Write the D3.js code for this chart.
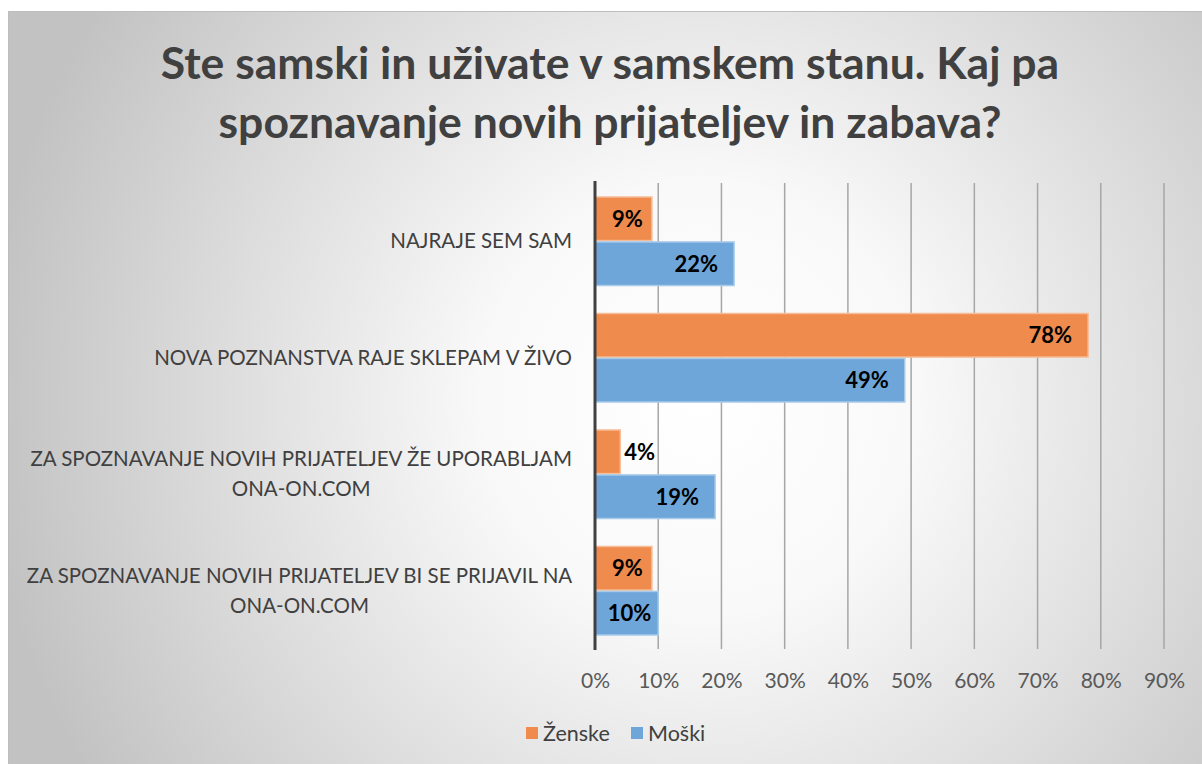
<!DOCTYPE html>
<html>
<head>
<meta charset="utf-8">
<script src="https://cdn.jsdelivr.net/npm/d3@7"></script>
<style>
  body { margin: 0; background: #fff; }
  svg { display: block; }
</style>
</head>
<body>
<div class="canvas"></div>
<script>
const titleLines = ['Ste samski in uživate v samskem stanu. Kaj pa', 'spoznavanje novih prijateljev in zabava?'];
const categories = [
    ['NAJRAJE SEM SAM'],
    ['NOVA POZNANSTVA RAJE SKLEPAM V ŽIVO'],
    ['ZA SPOZNAVANJE NOVIH PRIJATELJEV ŽE UPORABLJAM', 'ONA-ON.COM'],
    ['ZA SPOZNAVANJE NOVIH PRIJATELJEV BI SE PRIJAVIL NA', 'ONA-ON.COM']
];
const series = ['Ženske', 'Moški'];
const zenske = [0.09, 0.78, 0.04, 0.09];
const moski = [0.22, 0.49, 0.19, 0.10];
const ticks = [0, 0.1, 0.2, 0.3, 0.4, 0.5, 0.6, 0.7, 0.8, 0.9];

const colors = { 'Ženske': '#EE8B4D', 'Moški': '#6EA6DA' };
const strokes = { 'Ženske': '#F6BE98', 'Moški': '#A9CBEA' };

const W = 1202, H = 764;
const font = 'Lato, sans-serif';
const svg = d3.select('.canvas')
    .append('svg')
    .attr('width', W)
    .attr('height', H);

// background
const defs = svg.append('defs');
const grad = defs.append('radialGradient')
    .attr('id', 'bg')
    .attr('gradientUnits', 'userSpaceOnUse')
    .attr('cx', 700).attr('cy', 400).attr('r', 720);
grad.append('stop').attr('offset', '0%').attr('stop-color', '#ffffff');
grad.append('stop').attr('offset', '30%').attr('stop-color', '#f9f9f9');
grad.append('stop').attr('offset', '100%').attr('stop-color', '#c2c2c2');

svg.append('rect')
    .attr('x', 8.5).attr('y', 11.5)
    .attr('width', W).attr('height', H)
    .attr('fill', 'url(#bg)')
    .attr('stroke', '#bdbdbd');

// title
svg.append('text')
    .attr('text-anchor', 'middle')
    .attr('font-family', font)
    .attr('font-weight', 'bold')
    .attr('font-size', 44.5)
    .attr('fill', '#404040')
    .selectAll('tspan')
    .data(titleLines)
    .enter()
    .append('tspan')
    .attr('x', 610)
    .attr('y', (d, i) => 79 + i * 59)
    .text(d => d);

const x = d3.scaleLinear()
    .domain([0, 0.9])
    .range([595, 1164]);

const y = d3.scaleBand()
    .domain(d3.range(categories.length))
    .range([183, 649]);

const ySub = d3.scaleBand()
    .domain(series)
    .range([y.bandwidth() * 0.12, y.bandwidth() * 0.88])
    .paddingInner(0.03);

// gridlines
svg.append('g')
    .selectAll('line')
    .data(ticks.slice(1))
    .enter()
    .append('line')
    .attr('x1', d => x(d)).attr('x2', d => x(d))
    .attr('y1', 183).attr('y2', 649)
    .attr('stroke', '#a6a6a6')
    .attr('stroke-width', 1.5);

// x axis labels
const xAxis = d3.axisBottom(x)
    .tickValues(ticks)
    .tickSize(0)
    .tickPadding(0)
    .tickFormat(d3.format('.0%'));

const xAxisGroup = svg.append('g')
    .attr('transform', 'translate(0, 673)')
    .call(xAxis);
xAxisGroup.select('.domain').remove();
xAxisGroup.selectAll('text')
    .attr('font-family', font)
    .attr('font-size', 21)
    .attr('fill', '#595959')
    .attr('dy', '0.71em');

// bars
const rows = categories.map((c, i) => ({ i, values: [
    { key: 'Ženske', v: zenske[i] },
    { key: 'Moški', v: moski[i] }
] }));

const groups = svg.append('g')
    .selectAll('g')
    .data(rows)
    .enter()
    .append('g')
    .attr('transform', d => `translate(0, ${y(d.i)})`);

groups.selectAll('rect')
    .data(d => d.values)
    .enter()
    .append('rect')
    .attr('x', x(0))
    .attr('y', d => ySub(d.key))
    .attr('width', d => x(d.v) - x(0))
    .attr('height', ySub.bandwidth())
    .attr('fill', d => colors[d.key])
    .attr('stroke', d => strokes[d.key])
    .attr('stroke-width', 1.5);

// value labels: inside end, outside when the bar is too short
groups.selectAll('text.val')
    .data(d => d.values)
    .enter()
    .append('text')
    .attr('class', 'val')
    .attr('y', d => ySub(d.key) + ySub.bandwidth() / 2)
    .attr('dy', '0.36em')
    .attr('font-family', font)
    .attr('font-weight', 'bold')
    .attr('font-size', 22)
    .attr('fill', '#000')
    .text(d => d3.format('.0%')(d.v))
    .each(function(d) {
        const lw = this.getComputedTextLength();
        const bw = x(d.v) - x(0);
        const t = d3.select(this);
        if (bw < lw + 8) {
            t.attr('text-anchor', 'start').attr('x', x(d.v) + 4);
        } else {
            const pad = Math.min(16, (bw - lw) * 0.35);
            t.attr('text-anchor', 'end').attr('x', x(d.v) - pad);
        }
    });

// category labels
const catLabels = svg.append('g')
    .selectAll('text')
    .data(categories)
    .enter()
    .append('text')
    .attr('font-family', font)
    .attr('font-size', 20.5)
    .attr('fill', '#404040')
    .attr('text-anchor', 'middle');

catLabels.each(function(lines, i) {
    const t = d3.select(this);
    const cy = y(i) + y.bandwidth() / 2;
    const spans = t.selectAll('tspan')
        .data(lines)
        .enter()
        .append('tspan')
        .text(d => d);
    // block right-aligned at 572, lines centered within block
    const widths = [];
    spans.each(function() { widths.push(this.getComputedTextLength()); });
    const blockW = d3.max(widths);
    const cx = 572 - blockW / 2;
    const lh = 30;
    spans
        .attr('x', cx)
        .attr('y', (d, k) => cy + (k - (lines.length - 1) / 2) * lh)
        .attr('dy', '0.35em');
});

// axis line
svg.append('line')
    .attr('x1', x(0)).attr('x2', x(0))
    .attr('y1', 181).attr('y2', 650)
    .attr('stroke', '#404040')
    .attr('stroke-width', 3);

// legend
const legend = svg.append('g')
    .attr('transform', 'translate(526, 733)');
const legendX = [0, 105];
const items = legend.selectAll('g')
    .data(series)
    .enter()
    .append('g')
    .attr('transform', (d, i) => `translate(${legendX[i]}, 0)`);
items.append('rect')
    .attr('x', 0).attr('y', -6)
    .attr('width', 12).attr('height', 12)
    .attr('fill', d => colors[d]);
items.append('text')
    .attr('x', 17)
    .attr('dy', '0.36em')
    .attr('font-family', font)
    .attr('font-size', 21.5)
    .attr('fill', '#404040')
    .text(d => d);
</script>
</body>
</html>
